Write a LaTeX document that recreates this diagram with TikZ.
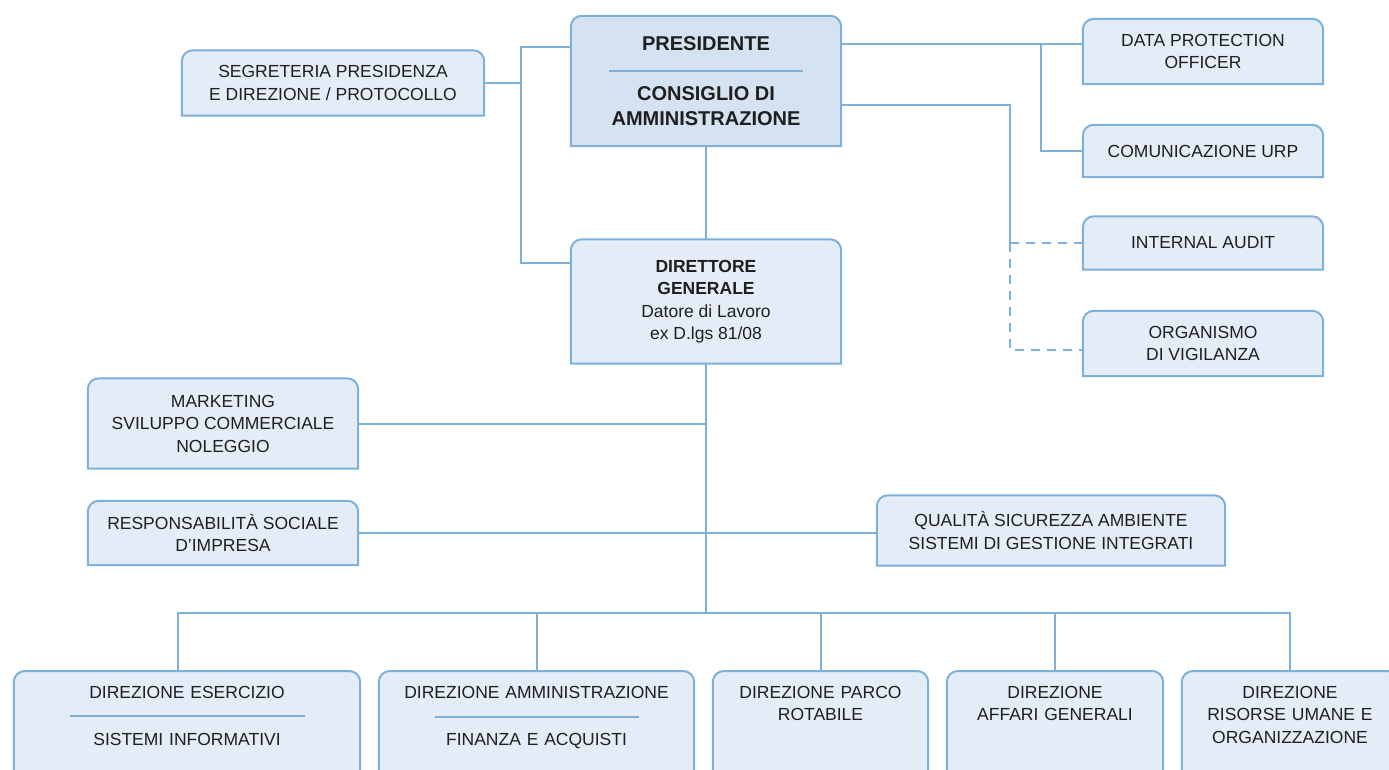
\documentclass[tikz,border=0pt]{standalone}
\usepackage{fontspec}
\setmainfont{Liberation Sans}
\usetikzlibrary{backgrounds}
\definecolor{edge}{HTML}{7DB1D9}
\definecolor{pale}{HTML}{E4EDF7}
\definecolor{paledark}{HTML}{D4E2F1}
\definecolor{ink}{HTML}{1F1F1F}
\newcommand{\sepline}[1]{\textcolor{edge}{\rule{#1}{2pt}}}
\tikzset{
  unit/.style={inner sep=0pt, align=center, text=ink, font=\fontsize{17.5}{22.5}\selectfont},
  area/.style={unit, anchor=north, inner xsep=0pt, inner ysep=15pt, text depth=120pt},
  boxline/.style={draw=edge, line width=2pt, fill=pale},
  link/.style={draw=edge, line width=2pt},
}
\begin{document}
\begin{tikzpicture}[x=1pt,y=-1pt]
  \useasboundingbox (0,0) rectangle (1389,770);
  %%% vertice
  \node[unit, minimum width=270pt, minimum height=130pt, font=\fontsize{20}{25}\bfseries\selectfont] (pres) at (706,81)
    {PRESIDENTE\\[-4pt]\sepline{194pt}\\[3.5pt]CONSIGLIO DI\\AMMINISTRAZIONE};
  \node[unit, minimum width=302pt, minimum height=65pt] (segr) at (333,83)
    {SEGRETERIA PRESIDENZA\\E DIREZIONE / PROTOCOLLO};
  \node[unit, minimum width=270pt, minimum height=124pt] (dg) at (706,301.5)
    {\textbf{DIRETTORE}\\\textbf{GENERALE}\\Datore di Lavoro\\ex D.lgs 81/08};
  %%% staff a destra
  \node[unit, minimum width=240pt, minimum height=65pt] (dpo) at (1203,51.5) {DATA PROTECTION\\OFFICER};
  \node[unit, minimum width=240pt, minimum height=52pt] (urp) at (1203,151) {COMUNICAZIONE URP};
  \node[unit, minimum width=240pt, minimum height=53pt] (audit) at (1203,243) {INTERNAL AUDIT};
  \node[unit, minimum width=240pt, minimum height=65pt] (odv) at (1203,343.5) {ORGANISMO\\DI VIGILANZA};
  %%% staff del DG
  \node[unit, minimum width=270pt, minimum height=90pt] (mkt) at (223,423.5)
    {MARKETING\\SVILUPPO COMMERCIALE\\NOLEGGIO};
  \node[unit, minimum width=270pt, minimum height=64pt] (rsi) at (223,533)
    {RESPONSABILITÀ SOCIALE\\D’IMPRESA};
  \node[unit, minimum width=348pt, minimum height=70pt] (qsa) at (1051,530.5)
    {QUALITÀ SICUREZZA AMBIENTE\\SISTEMI DI GESTIONE INTEGRATI};
  %%% direzioni
  \node[area, text width=346pt] (eserc) at (187,671)
    {DIREZIONE ESERCIZIO\\[-3.5pt]\sepline{235pt}\\[5.5pt]SISTEMI INFORMATIVI};
  \node[area, text width=315pt] (amm) at (536.5,671)
    {DIREZIONE AMMINISTRAZIONE\\[-3pt]\sepline{204pt}\\[5pt]FINANZA E ACQUISTI};
  \node[area, text width=215pt] (parco) at (820.5,671) {DIREZIONE PARCO\\ROTABILE};
  \node[area, text width=216pt] (affari) at (1055,671) {DIREZIONE\\AFFARI GENERALI};
  \node[area, text width=216pt] (ris) at (1290,671) {DIREZIONE\\RISORSE UMANE E\\ORGANIZZAZIONE};
  %%% riquadri
  \begin{scope}[on background layer]
    \clip (0,0) rectangle (1389,770);
    \foreach \n in {segr,dg,dpo,urp,audit,odv,mkt,rsi,qsa,eserc,amm,parco,affari,ris}
      \path[boxline] (\n.south west) [rounded corners=11pt] -- (\n.north west) -- (\n.north east) [sharp corners] -- (\n.south east) -- cycle;
    \path[boxline, fill=paledark] (pres.south west) [rounded corners=11pt] -- (pres.north west) -- (pres.north east) [sharp corners] -- (pres.south east) -- cycle;
  \end{scope}
  %%% collegamenti
  \coordinate (sl) at (521,150);
  \coordinate (rs) at (1041,44);
  \coordinate (ra) at (1010,243);
  \coordinate (bus) at (706,613);
  \draw[link] (segr.east) -- (segr.east -| sl);
  \draw[link] ([yshift=34pt]pres.west) -| (sl) |- ([yshift=38.5pt]dg.west);
  \draw[link] (pres) -- (dg);
  \draw[link] ([yshift=37pt]pres.east) -- ([yshift=37pt]pres.east -| dpo.west);
  \draw[link] (rs) |- (urp.west);
  \draw[link] ([yshift=-24pt]pres.east) -| (ra);
  \draw[link, dash pattern=on 9pt off 7pt] (ra) -- (ra -| audit.west);
  \draw[link, dash pattern=on 9pt off 7pt] (ra) |- ([yshift=-6.5pt]odv.west);
  \draw[link] (dg) -- (bus);
  \draw[link] (mkt.east) -- (mkt.east -| dg);
  \draw[link] (rsi.east) -- (rsi.east -| qsa.west);
  \draw[link] ([xshift=-9pt]eserc.north) |- (bus) -| (ris.north);
  \foreach \n in {amm,parco,affari}
    \draw[link] (\n.north) -- (\n.north |- bus);
\end{tikzpicture}
\end{document}
